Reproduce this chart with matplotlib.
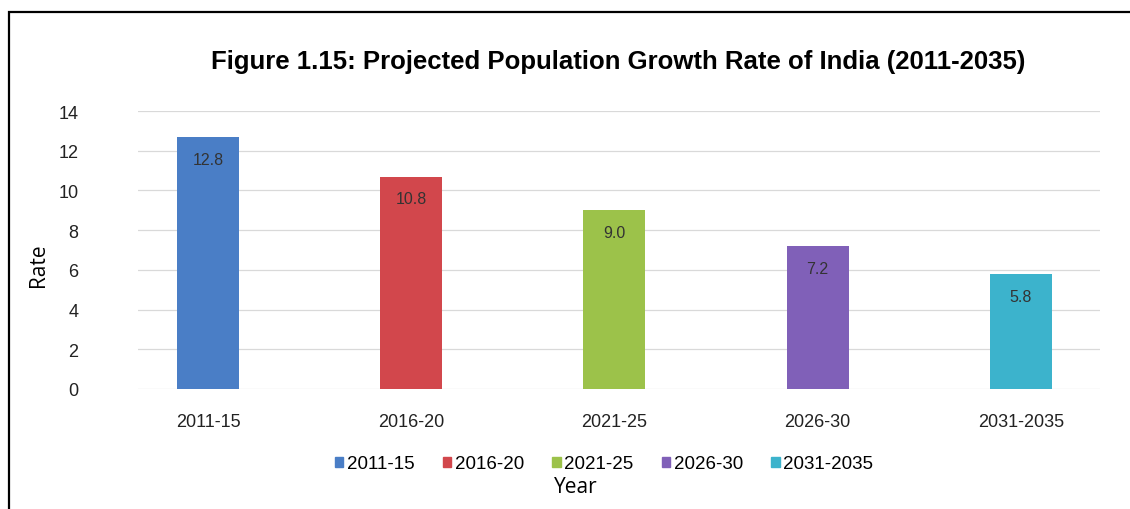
import matplotlib.pyplot as plt
import matplotlib.patches as mpatches
import numpy as np

periods = ["2011-15", "2016-20", "2021-25", "2026-30", "2031-2035"]
rates = [12.7, 10.7, 9.0, 7.2, 5.8]
labels = ["12.8", "10.8", "9.0", "7.2", "5.8"]
colors = ["#4a7ec6", "#d2474c", "#9cc24a", "#8060b8", "#3cb3cc"]

plt.rcParams['font.family'] = ['Liberation Sans', 'DejaVu Sans']

fig = plt.figure(figsize=(11.3, 5.1), dpi=100)
ax = fig.add_axes([138 / 1130, 1 - 390 / 510, 962 / 1130, 278 / 510])

x = np.arange(len(periods))
bars = ax.bar(x, rates, width=0.305, color=colors, zorder=2)
for b, lab in zip(bars, labels):
    ax.text(b.get_x() + b.get_width() / 2, b.get_height() - 0.75, lab,
            ha="center", va="top", fontsize=11.5, color="#333333", zorder=3)

ax.set_xlim(-0.345, 4.39)
ax.set_ylim(0, 14)
ax.set_yticks(range(0, 15, 2))
ax.set_xticks(x)
ax.set_xticklabels(periods, fontsize=13, color="#222222")
ax.tick_params(axis="y", labelsize=13, colors="#222222", length=0, pad=43)
ax.tick_params(axis="x", length=0, pad=17)
ax.grid(axis="y", color="#d9d9d9", linewidth=0.9, zorder=0)
for s in ax.spines.values():
    s.set_visible(False)

fig.text(618 / 1130, 1 - 62 / 510, "Figure 1.15: Projected Population Growth Rate of India (2011-2035)",
         ha="center", va="center", fontsize=18.5, fontweight="bold")
fig.text(38 / 1130, 1 - 265 / 510, "Rate", rotation=90, ha="center", va="center",
         fontsize=15, family=["Open Sans", "DejaVu Sans"])
fig.text(576 / 1130, 1 - 488 / 510, "Year", ha="center", va="center",
         fontsize=15, family=["Open Sans", "DejaVu Sans"])

handles = [mpatches.Patch(color=c, label=p) for c, p in zip(colors, periods)]
fig.legend(handles=handles, loc="center", bbox_to_anchor=(604 / 1130, 1 - 465 / 510),
           ncol=5, frameon=False, fontsize=13.5, handlelength=0.45, handleheight=0.45,
           handletextpad=0.2, columnspacing=1.5)

# outer border
fig.add_artist(mpatches.Rectangle((9 / 1130, -0.05), 1.2, 1 - 13 / 510 + 0.05,
                                  transform=fig.transFigure, fill=False,
                                  edgecolor="black", linewidth=1.6))

fig.savefig("out.png", dpi=100)
